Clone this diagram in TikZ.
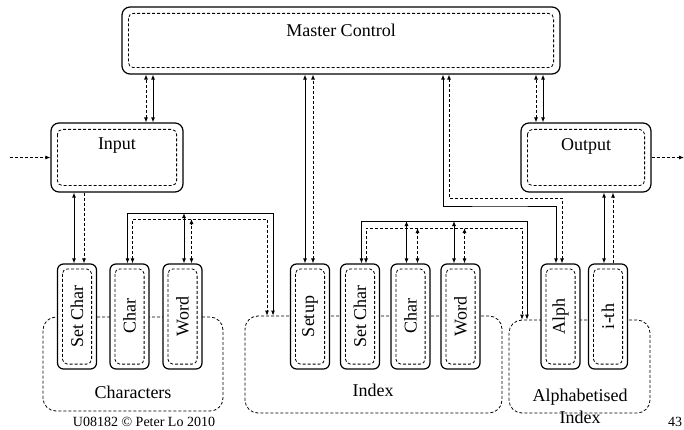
\documentclass[tikz,border=0pt]{standalone}
\usepackage{fontspec}
\setmainfont{Liberation Serif}
\usepackage{graphicx}
\usetikzlibrary{arrows.meta}
\newcommand\drawinner[2]{\draw[innerd] ([shift={(#2,#2)}]#1.north west) rectangle ([shift={(-#2,-#2)}]#1.south east);}
\begin{document}
\begin{tikzpicture}[x=1pt,y=-1pt,
  big/.style={draw, line width=1.2pt, rounded corners=8pt, fill=white, inner sep=0pt},
  small/.style={draw, line width=1.2pt, rounded corners=6pt, fill=white, inner sep=0pt,
    minimum width=39pt, minimum height=105pt, font=\fontsize{18}{21}\selectfont},
  grp/.style={draw, line width=0.8pt, dash pattern=on 3pt off 2pt, rounded corners=13pt, inner sep=0pt},
  innerd/.style={line width=0.8pt, dash pattern=on 3pt off 2pt, rounded corners=5pt},
  lbl/.style={font=\fontsize{18}{21}\selectfont, inner sep=0pt},
  foot/.style={font=\fontsize{14}{16}\selectfont, inner sep=0pt},
  sol/.style={line width=0.9pt},
  dsh/.style={line width=0.8pt, dash pattern=on 3pt off 2pt},
  bi/.style={{Latex[length=5pt,width=4pt]}-{Latex[length=5pt,width=4pt]}},
  fw/.style={-{Latex[length=5pt,width=4pt]}},
]
\useasboundingbox (0,0) rectangle (684,430);

% group containers
\node[grp, minimum width=180pt, minimum height=94pt] (chars) at (133,364) {};
\node[grp, minimum width=257pt, minimum height=97pt] (index) at (373.5,364.5) {};
\node[grp, minimum width=141pt, minimum height=93pt] (alpha) at (579.5,366.5) {};
\node[lbl] (charsT) at (133,392) {Characters};
\node[lbl] (indexT) at (373,390) {Index};
\node[lbl, align=center, font=\fontsize{18}{22}\selectfont] (alphaT) at (580,406) {Alphabetised\\Index};

% main boxes
\node[big, minimum width=438pt, minimum height=67pt] (master) at (341,40.5) {};
\node[big, minimum width=132pt, minimum height=69pt] (input) at (117,157.5) {};
\node[big, minimum width=130pt, minimum height=69pt] (output) at (586,157.5) {};
\drawinner{master}{7}
\drawinner{input}{7}
\drawinner{output}{7}
\node[lbl] (masterT) at (341,30) {Master Control};
\node[lbl] (inputT) at (117,146) {Input};
\node[lbl] (outputT) at (586,146) {Output};

% small boxes
\node[small] (cSet)   at (77,316.5)    {\rotatebox{90}{Set Char}};
\node[small] (cChar)  at (129.5,316.5) {\rotatebox{90}{Char}};
\node[small] (cWord)  at (182.5,316.5) {\rotatebox{90}{Word}};
\node[small] (iSetup) at (310,316.5)   {\rotatebox{90}{Setup}};
\node[small] (iSet)   at (360,316.5)   {\rotatebox{90}{Set Char}};
\node[small] (iChar)  at (410.5,316.5) {\rotatebox{90}{Char}};
\node[small] (iWord)  at (460.5,316.5) {\rotatebox{90}{Word}};
\node[small] (aAlph)  at (560.5,316.5) {\rotatebox{90}{Alph}};
\node[small] (aIth)   at (608,316.5)   {\rotatebox{90}{i-th}};
\foreach \n in {cSet,cChar,cWord,iSetup,iSet,iChar,iWord,aAlph,aIth}{\drawinner{\n}{5.5}}

% helper coordinates
\coordinate (inL) at (10,157.5);
\coordinate (outR) at (684,157.5);
\coordinate (cbS) at (273,213);
\coordinate (cbD) at (267,219);
\coordinate (ibS) at (527,221);
\coordinate (ibD) at (522,228);
\coordinate (maS) at (500,206);
\coordinate (maD) at (500,198);

% external in/out
\draw[dsh,fw] (inL) -- (input.west);
\draw[dsh,fw] (output.east) -- (outR);

% master <-> input / output
\draw[sol,bi] ([xshift=36pt]input.north) -- ([xshift=36pt]input.north |- master.south);
\draw[dsh,bi] ([xshift=29pt]input.north) -- ([xshift=29pt]input.north |- master.south);
\draw[sol,bi] ([xshift=-43pt]output.north) -- ([xshift=-43pt]output.north |- master.south);
\draw[dsh,bi] ([xshift=-50pt]output.north) -- ([xshift=-50pt]output.north |- master.south);

% input -> set char
\draw[sol,bi] ([xshift=-3pt]cSet.north) -- ([xshift=-3pt]cSet.north |- input.south);
\draw[dsh,fw] ([xshift=7pt]cSet.north |- input.south) -- ([xshift=7pt]cSet.north);

% master <-> setup
\draw[sol,bi] ([xshift=-5pt]iSetup.north) -- ([xshift=-5pt]iSetup.north |- master.south);
\draw[dsh,bi] ([xshift=3pt]iSetup.north) -- ([xshift=3pt]iSetup.north |- master.south);

% master <-> alph
\draw[sol,bi] ([xshift=102pt]master.south) |- (maS) -| ([xshift=-4.5pt]aAlph.north);
\draw[dsh,bi] ([xshift=108pt]master.south) |- (maD) -| ([xshift=1.5pt]aAlph.north);

% output <-> i-th
\draw[sol,bi] ([xshift=-4pt]aIth.north) -- ([xshift=-4pt]aIth.north |- output.south);
\draw[dsh,fw] ([xshift=5pt]aIth.north) -- ([xshift=5pt]aIth.north |- output.south);

% characters bus
\draw[sol,bi] ([xshift=-2pt]cChar.north) |- (cbS) -- ([xshift=-100.5pt]index.north);
\draw[dsh,bi] ([xshift=3pt]cChar.north) |- (cbD) -- ([xshift=-106.5pt]index.north);
\draw[sol,bi] ([xshift=1.5pt]cWord.north) -- ([xshift=1.5pt]cWord.north |- cbS);
\draw[dsh,bi] ([xshift=9pt]cWord.north) -- ([xshift=9pt]cWord.north |- cbD);

% index bus
\draw[sol,bi] ([xshift=1.5pt]iSet.north) |- (ibS) -- ([xshift=-52.5pt]alpha.north);
\draw[dsh,bi] ([xshift=6pt]iSet.north) |- (ibD) -- ([xshift=-57.5pt]alpha.north);
\draw[sol,bi] ([xshift=-4pt]iChar.north) -- ([xshift=-4pt]iChar.north |- ibS);
\draw[dsh,bi] ([xshift=7pt]iChar.north) -- ([xshift=7pt]iChar.north |- ibD);
\draw[sol,bi] ([xshift=-6.5pt]iWord.north) -- ([xshift=-6.5pt]iWord.north |- ibS);
\draw[dsh,bi] ([xshift=4pt]iWord.north) -- ([xshift=4pt]iWord.north |- ibD);

% footer
\node[foot, anchor=base] (footL) at (144,426.5) {U08182 © Peter Lo 2010};
\node[foot, anchor=base west] (footR) at (668,426.5) {43};
\end{tikzpicture}
\end{document}
